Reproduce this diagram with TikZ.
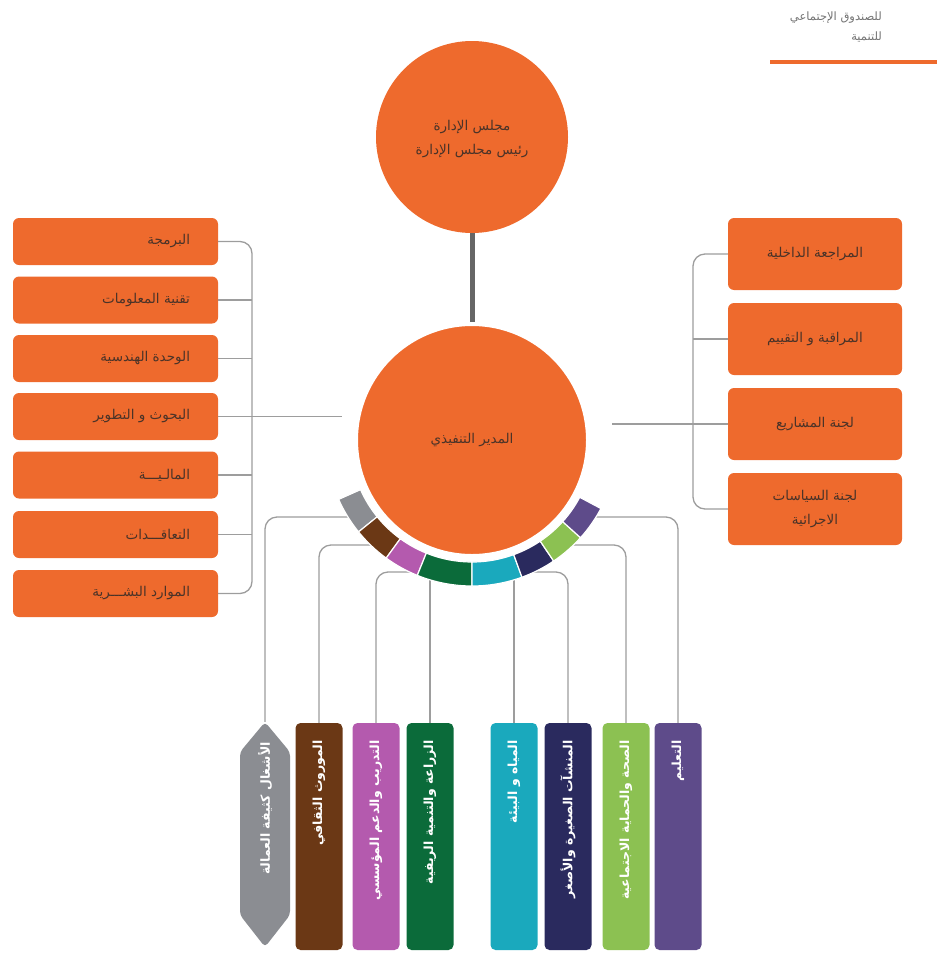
\documentclass[tikz,border=0pt]{standalone}
\usepackage{fontspec}
\newfontfamily\arabicfont[Script=Arabic]{DejaVu Sans}
\TeXXeTstate=1
\usetikzlibrary{calc}
\definecolor{org}{HTML}{EE6A2D}
\definecolor{txtd}{HTML}{4A3328}
\definecolor{lnc}{HTML}{9D9D9D}
\definecolor{cgray}{HTML}{8B8D92}
\definecolor{cbrown}{HTML}{6B3815}
\definecolor{cpink}{HTML}{B45AAE}
\definecolor{cgreen}{HTML}{0B6B3A}
\definecolor{cteal}{HTML}{1AA9BD}
\definecolor{cnavy}{HTML}{2A2A5E}
\definecolor{clgreen}{HTML}{8CC152}
\definecolor{cpurple}{HTML}{5E4B8A}
\newcommand{\artxt}[1]{{\arabicfont\beginR #1\endR}}
\tikzset{
  lbox/.style={fill=org, rounded corners=6pt, minimum width=205pt, minimum height=47pt, inner sep=0pt},
  rbox/.style={fill=org, rounded corners=6pt, minimum width=174pt, minimum height=72pt, inner sep=0pt},
  btxt/.style={text=txtd, font=\fontsize{13.5}{18}\selectfont, inner sep=0pt, align=center},
  bar/.style={rounded corners=5pt, minimum width=47pt, minimum height=227pt, inner sep=0pt},
  bartxt/.style={text=white, font=\fontsize{12.5}{14}\bfseries, rotate=90, anchor=east, inner sep=0pt},
  conn/.style={draw=lnc, line width=1.3pt, rounded corners=12pt},
}
\begin{document}
\begin{tikzpicture}[x=1pt,y=1pt]
\useasboundingbox (0,0) rectangle (937,-953);
% header
\node[text=black!55, font=\fontsize{11.5}{20}\selectfont, anchor=north east, align=right, inner sep=0pt] (hdr) at (882,-12) {\artxt{للصندوق الإجتماعي}\\\artxt{للتنمية}};
\draw[org, line width=4pt] (770,-62) coordinate (hl1) -- (937,-62) coordinate (hl2);
% circles
\node[circle, fill=org, minimum size=192pt, inner sep=0pt] (top) at (472,-137) {};
\node[btxt] (toptxt) at (472,-139) {\artxt{مجلس الإدارة}\\[6pt]\artxt{رئيس مجلس الإدارة}};
\node[circle, minimum size=230pt, inner sep=0pt] (ctr) at (472,-440) {};
\draw[black!60, line width=5pt] (top.south) -- (ctr.north);
% left boxes
\foreach \i/\y in {1/241.5,2/300,3/358.5,4/416.5,5/475,6/534.5,7/593.5}{
  \node[lbox] (l\i) at (115.5,-\y) {};
}
\node[btxt, anchor=east] (lt1) at ($(l1.east)+(-28,0)$) {\artxt{البرمجة}};
\node[btxt, anchor=east] (lt2) at ($(l2.east)+(-28,0)$) {\artxt{تقنية المعلومات}};
\node[btxt, anchor=east] (lt3) at ($(l3.east)+(-28,0)$) {\artxt{الوحدة الهندسية}};
\node[btxt, anchor=east] (lt4) at ($(l4.east)+(-28,0)$) {\artxt{البحوث و التطوير}};
\node[btxt, anchor=east] (lt5) at ($(l5.east)+(-28,0)$) {\artxt{المالـيـــة}};
\node[btxt, anchor=east] (lt6) at ($(l6.east)+(-28,0)$) {\artxt{التعاقـــدات}};
\node[btxt, anchor=east] (lt7) at ($(l7.east)+(-28,0)$) {\artxt{الموارد البشـــرية}};
\coordinate (lbus) at (252,-400);
\coordinate (lfree) at (342,-416.5);
\draw[conn] (l1.east) -- (lbus |- l1.east) -- (lbus |- l7.east) -- (l7.east);
\foreach \i in {2,...,6}{ \draw[conn] (l\i.east) -- (lbus |- l\i.east); }
\draw[conn] (lbus |- l4.east) -- (lfree);
% right boxes
\foreach \i/\y in {1/254,2/339,3/424,4/509}{
  \node[rbox] (r\i) at (815,-\y) {};
}
\node[btxt] (rt1) at (r1) {\artxt{المراجعة الداخلية}};
\node[btxt] (rt2) at (r2) {\artxt{المراقبة و التقييم}};
\node[btxt] (rt3) at (r3) {\artxt{لجنة المشاريع}};
\node[btxt] (rt4) at (r4) {\artxt{لجنة السياسات}\\[6pt]\artxt{الاجرائية}};
\coordinate (rbus) at (693,-380);
\coordinate (rfree) at (612,-424);
\draw[conn] (r1.west) -- (rbus |- r1.west) -- (rbus |- r4.west) -- (r4.west);
\foreach \i in {2,3}{ \draw[conn] (r\i.west) -- (rbus |- r\i.west); }
\draw[conn] (rbus |- r3.west) -- (rfree);
% bars
\node[minimum width=50pt, minimum height=225pt, inner sep=0pt] (b1) at (265,-834.5) {};
\fill[cgray, rounded corners=4pt] (265,-722) -- (290,-752) -- (290,-915) -- (265,-947) -- (240,-915) -- (240,-752) -- cycle;
\node[bar, fill=cbrown] (b2) at (319,-836.5) {};
\node[bar, fill=cpink] (b3) at (376,-836.5) {};
\node[bar, fill=cgreen] (b4) at (430,-836.5) {};
\node[bar, fill=cteal] (b5) at (514,-836.5) {};
\node[bar, fill=cnavy] (b6) at (568,-836.5) {};
\node[bar, fill=clgreen] (b7) at (626,-836.5) {};
\node[bar, fill=cpurple] (b8) at (678,-836.5) {};
\node[bartxt] (bt1) at (265,-742) {\artxt{الأشغال كثيفة العمالة}};
\node[bartxt] (bt2) at (319,-740) {\artxt{الموروث الثقافي}};
\node[bartxt] (bt3) at (376,-740) {\artxt{التدريب والدعم المؤسسي}};
\node[bartxt] (bt4) at (430,-740) {\artxt{الزراعة والتنمية الريفية}};
\node[bartxt] (bt5) at (514,-740) {\artxt{المياه و البيئة}};
\node[bartxt] (bt6) at (568,-740) {\artxt{المنشآت الصغيرة والأصغر}};
\node[bartxt] (bt7) at (626,-740) {\artxt{الصحة والحماية الاجتماعية}};
\node[bartxt] (bt8) at (678,-740) {\artxt{التعليم}};
% connectors from arc to bars
\coordinate (s1) at (360,-517);
\coordinate (s2) at (385,-545);
\coordinate (s3) at (414,-572);
\coordinate (s4) at (430,-578);
\coordinate (s5) at (514,-578);
\coordinate (s6) at (530,-572);
\coordinate (s7) at (560,-545);
\coordinate (s8) at (585,-517);
\draw[conn] (s1) -| (b1.north);
\draw[conn] (s2) -| (b2.north);
\draw[conn] (s3) -| (b3.north);
\draw[conn] (s4) -- (b4.north);
\draw[conn] (s5) -- (b5.north);
\draw[conn] (s6) -| (b6.north);
\draw[conn] (s7) -| (b7.north);
\draw[conn] (s8) -| (b8.north);
% central circle
\fill[org, draw=white, line width=4pt] (ctr.center) circle[radius=116];
\node[btxt] (ctrtxt) at (ctr) {\artxt{المدير التنفيذي}};
% ring segments
\foreach \a/\b/\c in {204/219/cgray, 219/234/cbrown, 234/248/cpink, 248/270/cgreen, 270/290/cteal, 290/304/cnavy, 304/318/clgreen, 318/332/cpurple}{
  \filldraw[fill=\c, draw=white, line width=1.2pt] ($(ctr.center)+(\a:122)$) arc[start angle=\a, end angle=\b, radius=122] -- ($(ctr.center)+(\b:146)$) arc[start angle=\b, end angle=\a, radius=146] -- cycle;
}
\end{tikzpicture}
\end{document}
